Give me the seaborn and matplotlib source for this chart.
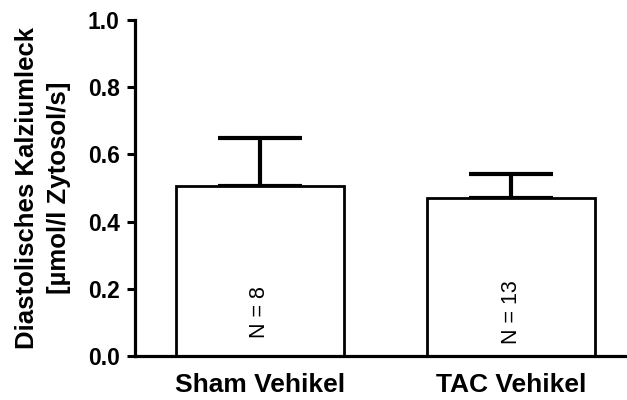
import numpy as np
import pandas as pd
import seaborn as sns
from matplotlib import pyplot as plt

groups = ['Sham Vehikel', 'TAC Vehikel']
means = [0.506, 0.471]
sem_up = [0.143, 0.072]
n_labels = ['N = 8', 'N = 13']

df = pd.DataFrame({'group': groups, 'leak': means})

sns.set_style('ticks', {'axes.edgecolor': 'black', 'text.color': 'black',
                        'xtick.color': 'black', 'ytick.color': 'black',
                        'axes.labelcolor': 'black'})
plt.rcParams['font.family'] = ['Liberation Sans', 'DejaVu Sans']

fig = plt.figure(figsize=(6.27, 4.0), dpi=100)
ax = fig.add_axes([0.215, 0.11, 0.785, 0.84])

sns.barplot(data=df, x='group', y='leak', color='white', edgecolor='black',
            linewidth=2.0, width=0.667, errorbar=None, ax=ax, zorder=2)

# one-sided error bars (upward only)
ax.errorbar(np.arange(len(groups)), means, yerr=[[0] * len(groups), sem_up],
            fmt='none', ecolor='black', elinewidth=3, capsize=30, capthick=3, zorder=1)

for i, lab in enumerate(n_labels):
    ax.text(i, 0.131, lab, rotation=90, ha='center', va='center', fontsize=15.5,
            color='black')

ax.set_ylim(0, 1.0)
ax.set_xlim(-0.496, 1.46)
ax.set_yticks([0.0, 0.2, 0.4, 0.6, 0.8, 1.0])
ax.set_yticklabels(['0.0', '0.2', '0.4', '0.6', '0.8', '1.0'], fontweight='bold', fontsize=16.5)
for t in ax.get_xticklabels():
    t.set_fontweight('bold')
    t.set_fontsize(19)
ax.tick_params(axis='x', length=0, pad=12, colors='black')
ax.tick_params(axis='y', length=6, width=2.2, pad=5, colors='black')

ax.set_xlabel('')
ax.set_ylabel('Diastolisches Kalziumleck\n[µmol/l Zytosol/s]', fontweight='bold',
              fontsize=18.5, labelpad=12, linespacing=1.4, color='black')

sns.despine(ax=ax)
for s in ['left', 'bottom']:
    ax.spines[s].set_linewidth(2.3)
    ax.spines[s].set_color('black')

fig.savefig('out.png', dpi=100)
